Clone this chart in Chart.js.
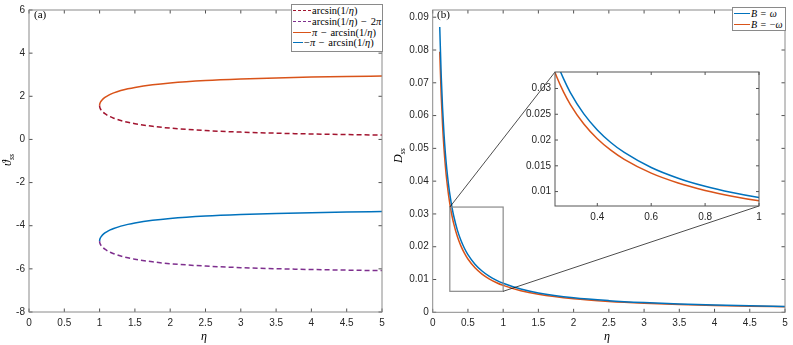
<!DOCTYPE html>
<html><head><meta charset="utf-8">
<script src="https://cdn.jsdelivr.net/npm/chart.js@4.4.0/dist/chart.umd.min.js"></script>
<style>
html,body{margin:0;padding:0;background:#fff;}
#wrap{position:relative;width:793px;height:345px;overflow:hidden;background:#fff;}
canvas{position:absolute;left:0;top:0;}
.lbl{position:absolute;font-family:"Liberation Serif","Times New Roman",serif;color:#000;white-space:nowrap;line-height:1;}
.leg{position:absolute;background:#fff;border:1px solid #8a8a8a;box-sizing:border-box;font-family:"Liberation Serif",serif;font-size:10.5px;color:#000;padding-top:1px;}
.row{height:10.8px;line-height:10.8px;white-space:nowrap;word-spacing:1px;}
.ln{display:inline-block;width:18px;height:0;border-top:1.6px solid;vertical-align:middle;margin:0 1px 0 1px;position:relative;top:-1px;}
.ln.dash{border-top-style:dashed;}
.rot{transform-origin:0 0;transform:rotate(-90deg);}
</style></head>
<body><div id="wrap">
<canvas id="ca" width="793" height="345"></canvas>
<canvas id="cb" width="793" height="345"></canvas>
<canvas id="ci" width="793" height="345"></canvas>

<div class="lbl" style="left:34px;top:9px;font-size:11px;">(a)</div>
<div class="lbl" style="left:437px;top:9px;font-size:11px;">(b)</div>
<div class="lbl" style="left:201px;top:330px;font-size:12px;"><i>η</i></div>
<div class="lbl" style="left:604px;top:330px;font-size:12px;"><i>η</i></div>
<div class="lbl rot" style="left:1px;top:166px;font-size:12px;"><i>ϑ</i><sub style="font-size:8px"><i>ss</i></sub></div>
<div class="lbl rot" style="left:392px;top:163px;font-size:12px;"><i>D</i><sub style="font-size:8px"><i>ss</i></sub></div>

<div class="leg" style="left:291px;top:4px;width:92px;height:48px;">
<div class="row"><span class="ln dash" style="border-color:#A2142F"></span>arcsin(1/<i>η</i>)</div>
<div class="row"><span class="ln dash" style="border-color:#7E2F8E"></span>arcsin(1/<i>η</i>) − 2<i>π</i></div>
<div class="row"><span class="ln" style="border-color:#D95319"></span><i>π</i> − arcsin(1/<i>η</i>)</div>
<div class="row"><span class="ln" style="border-color:#0072BD;width:10px"></span>−<i>π</i> − arcsin(1/<i>η</i>)</div>
</div>
<div class="leg" style="left:732px;top:7px;width:54px;height:24px;font-size:10px;">
<div class="row"><span class="ln" style="border-color:#0072BD;width:16px"></span><i>B</i> = <i>ω</i></div>
<div class="row"><span class="ln" style="border-color:#D95319;width:16px"></span><i>B</i> = −<i>ω</i></div>
</div>
</div>
<script>
// ---------- Panel (a) data ----------
const etaA = [1, 1.001, 1.005, 1.01, 1.02, 1.035, 1.05, 1.075, 1.1, 1.15, 1.2, 1.3, 1.4, 1.5, 1.75, 2, 2.5, 3, 3.5, 4, 4.5, 5];
const arcsinInv = [1.5708, 1.5261, 1.4710, 1.4300, 1.3724, 1.3100, 1.2610, 1.1951, 1.1410, 1.0543, 0.9851, 0.8776, 0.7956, 0.7297, 0.6082, 0.5236, 0.4115, 0.3398, 0.2898, 0.2527, 0.2241, 0.2014];
const arcsinInvMinus2Pi = [-4.7124, -4.7571, -4.8122, -4.8532, -4.9108, -4.9732, -5.0222, -5.0881, -5.1422, -5.2289, -5.2981, -5.4056, -5.4876, -5.5535, -5.6750, -5.7596, -5.8717, -5.9434, -5.9934, -6.0305, -6.0591, -6.0818];
const piMinusArcsin = [1.5708, 1.6155, 1.6706, 1.7116, 1.7692, 1.8316, 1.8806, 1.9465, 2.0006, 2.0873, 2.1565, 2.2640, 2.3460, 2.4119, 2.5334, 2.6180, 2.7301, 2.8018, 2.8518, 2.8889, 2.9175, 2.9402];
const negPiMinusArcsin = [-4.7124, -4.6677, -4.6126, -4.5716, -4.5140, -4.4516, -4.4026, -4.3367, -4.2826, -4.1959, -4.1267, -4.0192, -3.9372, -3.8713, -3.7498, -3.6652, -3.5531, -3.4814, -3.4314, -3.3943, -3.3657, -3.3430];
const xTicksA = [0, 0.5, 1, 1.5, 2, 2.5, 3, 3.5, 4, 4.5, 5];
const xTickLabelsA = ["0","0.5","1","1.5","2","2.5","3","3.5","4","4.5","5"];
const yTicksA = [-8, -6, -4, -2, 0, 2, 4, 6];
const yTickLabelsA = ["-8","-6","-4","-2","0","2","4","6"];

// ---------- Panel (b) data ----------
const etaB = [0.1, 0.12, 0.14, 0.16, 0.18, 0.2, 0.225, 0.25, 0.275, 0.3, 0.35, 0.4, 0.45, 0.5, 0.6, 0.7, 0.8, 0.9, 1.0, 1.25, 1.5, 2, 2.5, 3, 3.5, 4, 4.5, 5];
const dssPlus = [0.0870, 0.07258, 0.06228, 0.05455, 0.04852, 0.04370, 0.03888, 0.03502, 0.03186, 0.02922, 0.02507, 0.02196, 0.01953, 0.01759, 0.01468, 0.01260, 0.01103, 0.00981, 0.00884, 0.00708, 0.00591, 0.00444, 0.00356, 0.00297, 0.00255, 0.00223, 0.00199, 0.00179];
const dssMinus = [0.07949, 0.06640, 0.05704, 0.05000, 0.04452, 0.04012, 0.03572, 0.03219, 0.02930, 0.02689, 0.02310, 0.02025, 0.01803, 0.01625, 0.01357, 0.01166, 0.01022, 0.00910, 0.00820, 0.00658, 0.00550, 0.00414, 0.00332, 0.00277, 0.00238, 0.00209, 0.00186, 0.00168];
const xTicksB = [0, 0.5, 1, 1.5, 2, 2.5, 3, 3.5, 4, 4.5, 5];
const xTickLabelsB = ["0","0.5","1","1.5","2","2.5","3","3.5","4","4.5","5"];
const yTicksB = [0, 0.01, 0.02, 0.03, 0.04, 0.05, 0.06, 0.07, 0.08, 0.09];
const yTickLabelsB = ["0","0.01","0.02","0.03","0.04","0.05","0.06","0.07","0.08","0.09"];
const xTicksInset = [0.4, 0.6, 0.8, 1];
const xTickLabelsInset = ["0.4","0.6","0.8","1"];
const yTicksInset = [0.01, 0.015, 0.02, 0.025, 0.03];
const yTickLabelsInset = ["0.01","0.015","0.02","0.025","0.03"];
const insetXRange = [0.243, 1];
const insetYRange = [0.0072, 0.0332];
const zoomRectX = [0.243, 1];
const zoomRectY = [0.0064, 0.0321];

// ---------- helpers ----------
const pts = (xs, ys) => xs.map((x, i) => ({x, y: ys[i]}));
const tickFont = {family: '"Liberation Sans", Arial, sans-serif', size: 10};
function axis(min, max, ticks, labels, size, isX, pad) {
  return {
    type: 'linear', min, max,
    grid: {display: false, drawTicks: false},
    border: {display: false},
    ticks: {
      font: tickFont, color: '#262626', padding: pad, maxRotation: 0, autoSkip: false,
      callback: (v) => { const i = ticks.findIndex(t => Math.abs(t - v) < 1e-9); return i >= 0 ? labels[i] : ''; }
    },
    afterBuildTicks: (s) => { s.ticks = ticks.map(v => ({value: v})); },
    afterFit: (s) => { if (isX) s.height = size; else s.width = size; }
  };
}
const boxTicks = {
  id: 'boxTicks',
  beforeDatasetsDraw(chart, args, o) {
    if (o.fill) { const a = chart.chartArea; chart.ctx.save(); chart.ctx.fillStyle = '#fff'; chart.ctx.fillRect(a.left, a.top, a.right - a.left, a.bottom - a.top); chart.ctx.restore(); }
  },
  afterDraw(chart, args, o) {
    const {ctx, chartArea: a, scales: {x, y}} = chart;
    const L = o.len || 3.5;
    ctx.save();
    ctx.strokeStyle = o.tickColor || '#262626';
    ctx.lineWidth = 0.8;
    ctx.beginPath();
    x.ticks.forEach(t => { const p = x.getPixelForValue(t.value); ctx.moveTo(p, a.bottom); ctx.lineTo(p, a.bottom - L); ctx.moveTo(p, a.top); ctx.lineTo(p, a.top + L); });
    y.ticks.forEach(t => { const p = y.getPixelForValue(t.value); ctx.moveTo(a.left, p); ctx.lineTo(a.left + L, p); ctx.moveTo(a.right, p); ctx.lineTo(a.right - L, p); });
    ctx.stroke();
    ctx.strokeStyle = o.color || '#8a8a8a';
    ctx.lineWidth = o.width || 1;
    ctx.strokeRect(a.left, a.top, a.right - a.left, a.bottom - a.top);
    ctx.restore();
  }
};
Chart.register(boxTicks);
const lineDs = (label, data, color, dash) => ({
  label, data, borderColor: color, backgroundColor: color, borderWidth: 1.5, pointRadius: 0,
  borderDash: dash || [], cubicInterpolationMode: 'monotone', fill: false
});
const common = {
  responsive: false, animation: false, parsing: true,
  plugins: {legend: {display: false}, tooltip: {enabled: false}},
  elements: {line: {borderCapStyle: 'butt'}}
};

// ---------- Panel (a) ----------
new Chart(document.getElementById('ca'), {
  type: 'line',
  data: {datasets: [
    lineDs('arcsin(1/η)', pts(etaA, arcsinInv), '#A2142F', [5, 3]),
    lineDs('arcsin(1/η) − 2π', pts(etaA, arcsinInvMinus2Pi), '#7E2F8E', [5, 3]),
    lineDs('π − arcsin(1/η)', pts(etaA, piMinusArcsin), '#D95319'),
    lineDs('−π − arcsin(1/η)', pts(etaA, negPiMinusArcsin), '#0072BD')
  ]},
  options: Object.assign({}, common, {
    layout: {padding: {left: 0, right: 411, top: 7, bottom: 0}},
    scales: {x: axis(0, 5, xTicksA, xTickLabelsA, 33, true, 5), y: axis(-8, 6, yTicksA, yTickLabelsA, 29, false, 4)},
    plugins: Object.assign({}, common.plugins, {boxTicks: {len: 3.5}})
  })
});

// ---------- Inset (created first so its area is known) ----------
const inset = new Chart(document.getElementById('ci'), {
  type: 'line',
  data: {datasets: [
    lineDs('B = ω', pts(etaB, dssPlus), '#0072BD'),
    lineDs('B = −ω', pts(etaB, dssMinus), '#D95319')
  ]},
  options: Object.assign({}, common, {
    layout: {padding: {left: 510, right: 34, top: 72, bottom: 119}},
    scales: {x: axis(insetXRange[0], insetXRange[1], xTicksInset, xTickLabelsInset, 20, true, 5), y: axis(insetYRange[0], insetYRange[1], yTicksInset, yTickLabelsInset, 45, false, 4)},
    plugins: Object.assign({}, common.plugins, {boxTicks: {len: 3, fill: true, color: '#555', width: 1}})
  })
});

// ---------- Panel (b) ----------
const zoomLinks = {
  id: 'zoomLinks',
  afterDraw(chart) {
    const {ctx, scales: {x, y}} = chart;
    const ia = inset.chartArea;
    const x0 = x.getPixelForValue(zoomRectX[0]), x1 = x.getPixelForValue(zoomRectX[1]);
    const y0 = y.getPixelForValue(zoomRectY[1]), y1 = y.getPixelForValue(zoomRectY[0]);
    ctx.save();
    ctx.strokeStyle = '#8a8a8a'; ctx.lineWidth = 1.2;
    ctx.strokeRect(x0, y0, x1 - x0, y1 - y0);
    ctx.strokeStyle = '#000'; ctx.lineWidth = 0.7;
    ctx.beginPath();
    ctx.moveTo(x0, y0); ctx.lineTo(ia.left, ia.top);
    ctx.moveTo(x1, y1); ctx.lineTo(ia.right, ia.bottom);
    ctx.stroke();
    ctx.restore();
  }
};
new Chart(document.getElementById('cb'), {
  type: 'line',
  data: {datasets: [
    lineDs('B = ω', pts(etaB, dssPlus), '#0072BD'),
    lineDs('B = −ω', pts(etaB, dssMinus), '#D95319')
  ]},
  options: Object.assign({}, common, {
    layout: {padding: {left: 390, right: 8, top: 7, bottom: 0}},
    scales: {x: axis(0, 5, xTicksB, xTickLabelsB, 32.7, true, 5), y: axis(0, 0.0922, yTicksB, yTickLabelsB, 42.7, false, 4)},
    plugins: Object.assign({}, common.plugins, {boxTicks: {len: 3.5}})
  }),
  plugins: [zoomLinks]
});
</script>
</body></html>
